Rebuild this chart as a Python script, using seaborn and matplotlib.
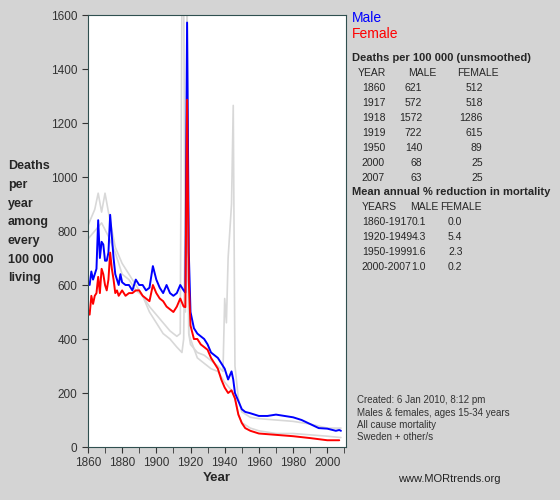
import matplotlib
matplotlib.use("Agg")
import matplotlib.pyplot as plt
import seaborn as sns

sns.set_style("white")
plt.rcParams['font.family'] = ['Liberation Sans', 'DejaVu Sans']

# data (deaths per 100 000, ages 15-34)
male_years = [1860, 1861, 1862, 1863, 1864, 1865, 1866, 1867, 1868, 1869, 1870, 1871, 1872, 1873, 1874, 1875,
              1876, 1877, 1878, 1879, 1880, 1882, 1884, 1886, 1888, 1890, 1892, 1894, 1896, 1898, 1900, 1902,
              1904, 1906, 1908, 1910, 1912, 1914, 1916, 1917, 1918, 1919, 1920, 1922, 1924, 1926, 1928, 1930,
              1932, 1934, 1936, 1938, 1940, 1942, 1944, 1945, 1946, 1948, 1950, 1952, 1955, 1960, 1965, 1970,
              1975, 1980, 1985, 1990, 1995, 2000, 2005, 2007, 2008]
male_vals = [610, 600, 650, 620, 640, 660, 840, 700, 760, 750, 690, 690, 720, 860, 780, 700,
             640, 620, 600, 640, 610, 600, 600, 580, 620, 600, 600, 580, 590, 670, 620, 590,
             570, 600, 570, 560, 570, 600, 580, 572, 1572, 722, 500, 440, 420, 410, 400, 380,
             350, 340, 330, 310, 290, 250, 280, 250, 200, 170, 140, 130, 125, 115, 115, 120,
             115, 110, 100, 85, 70, 68, 60, 63, 60]

female_years = [1860, 1861, 1862, 1863, 1864, 1865, 1866, 1867, 1868, 1869, 1870, 1871, 1872, 1873, 1874, 1875,
                1876, 1877, 1878, 1880, 1882, 1884, 1886, 1888, 1890, 1892, 1894, 1896, 1898, 1900, 1902, 1904,
                1906, 1908, 1910, 1912, 1914, 1916, 1917, 1918, 1919, 1920, 1922, 1924, 1926, 1928, 1930, 1932,
                1934, 1936, 1938, 1940, 1942, 1944, 1946, 1948, 1950, 1952, 1955, 1960, 1970, 1980, 1990, 2000,
                2007]
female_vals = [510, 490, 560, 530, 560, 570, 630, 570, 660, 640, 600, 580, 620, 720, 660, 620,
               570, 580, 560, 580, 560, 570, 570, 580, 580, 560, 550, 540, 600, 570, 550, 540,
               520, 510, 500, 520, 550, 520, 518, 1286, 615, 450, 400, 400, 380, 370, 360, 330,
               310, 290, 250, 220, 200, 210, 180, 120, 89, 70, 60, 50, 45, 40, 33, 25,
               25]

other1_years = [1860, 1864, 1866, 1868, 1870, 1872, 1876, 1880, 1884, 1888, 1892, 1896, 1900, 1904, 1908,
                1912, 1914, 1915, 1916, 1917, 1918, 1919, 1920, 1924, 1928, 1932, 1936, 1939, 1940, 1941,
                1942, 1944, 1945, 1946, 1948, 1950, 1955, 1960, 1970, 1980, 1990, 2000, 2008]
other1_vals = [820, 880, 940, 870, 940, 870, 740, 680, 640, 600, 560, 520, 490, 460, 430,
               410, 420, 1700, 1700, 500, 1700, 420, 380, 350, 340, 320, 300, 280, 550, 460,
               700, 900, 1265, 300, 180, 130, 110, 105, 100, 95, 85, 70, 70]

other2_years = [1860, 1864, 1868, 1872, 1876, 1880, 1884, 1888, 1892, 1896, 1900, 1904, 1908, 1912, 1915,
                1916, 1917, 1918, 1919, 1920, 1924, 1928, 1932, 1936, 1940, 1944, 1946, 1948, 1950, 1955,
                1960, 1970, 1980, 1990, 2000, 2008]
other2_vals = [770, 800, 830, 780, 720, 640, 620, 580, 560, 500, 460, 420, 400, 370, 350,
               400, 900, 1300, 420, 400, 330, 310, 290, 280, 240, 210, 180, 120, 90, 70,
               60, 50, 50, 45, 40, 35]

table1_rows = [("1860", "621", "512"), ("1917", "572", "518"), ("1918", "1572", "1286"),
               ("1919", "722", "615"), ("1950", "140", "89"), ("2000", "68", "25"), ("2007", "63", "25")]
table2_rows = [("1860-1917", "0.1", "0.0"), ("1920-1949", "4.3", "5.4"),
               ("1950-1999", "1.6", "2.3"), ("2000-2007", "1.0", "0.2")]

bg = "#d4d4d4"
fig = plt.figure(figsize=(5.6, 5.0), dpi=100, facecolor=bg)
ax = fig.add_axes([0.157, 0.106, 0.461, 0.864])
ax.set_facecolor("white")

for yrs, vals in [(other1_years, other1_vals), (other2_years, other2_vals)]:
    sns.lineplot(x=yrs, y=vals, ax=ax, color="#d8d8d8", lw=1.2)
sns.lineplot(x=male_years, y=male_vals, ax=ax, color="blue", lw=1.4)
sns.lineplot(x=female_years, y=female_vals, ax=ax, color="red", lw=1.4)

ax.set_xlim(1860, 2011)
ax.set_ylim(0, 1600)
ax.set_xticks(range(1860, 2001, 20))
ax.set_xticks(range(1860, 2011, 10), minor=True)
ax.set_yticks(range(0, 1601, 200))
ax.tick_params(axis="both", which="both", direction="out", length=4, labelsize=8.5, colors="#333333",
               bottom=True, left=True)
for s in ax.spines.values():
    s.set_color("#2f4f4f")
ax.set_xlabel("Year", fontsize=9.5, fontweight="bold", labelpad=2)

fig.text(0.014, 0.68, "Deaths\nper\nyear\namong\nevery\n100 000\nliving", fontsize=9, fontweight="bold",
         va="top", ha="left", linespacing=1.75)

fig.text(0.628, 0.955, "Male", color="blue", fontsize=10)
fig.text(0.628, 0.925, "Female", color="red", fontsize=10)

fs = 7.5
fig.text(0.628, 0.878, "Deaths per 100 000 (unsmoothed)", fontsize=8, fontweight="bold")
y0 = 0.848
fig.text(0.638, y0, "YEAR", fontsize=fs)
fig.text(0.729, y0, "MALE", fontsize=fs)
fig.text(0.816, y0, "FEMALE", fontsize=fs)
for i, row in enumerate(table1_rows):
    y = y0 - 0.03 * (i + 1)
    fig.text(0.646, y, row[0], fontsize=fs)
    fig.text(0.754, y, row[1], fontsize=fs, ha="right")
    fig.text(0.862, y, row[2], fontsize=fs, ha="right")

fig.text(0.628, 0.61, "Mean annual % reduction in mortality", fontsize=8, fontweight="bold")
y0 = 0.58
fig.text(0.646, y0, "YEARS", fontsize=fs)
fig.text(0.732, y0, "MALE", fontsize=fs)
fig.text(0.786, y0, "FEMALE", fontsize=fs)
for i, row in enumerate(table2_rows):
    y = y0 - 0.03 * (i + 1)
    fig.text(0.646, y, row[0], fontsize=fs)
    fig.text(0.735, y, row[1], fontsize=fs)
    fig.text(0.80, y, row[2], fontsize=fs)

fig.text(0.638, 0.115, "Created: 6 Jan 2010, 8:12 pm\nMales & females, ages 15-34 years\nAll cause mortality\nSweden + other/s",
         fontsize=7, color="#333333", va="bottom", linespacing=1.3)
fig.text(0.71, 0.035, "www.MORtrends.org", fontsize=8, color="#222222")

fig.savefig("out.png", dpi=100, facecolor=bg)
